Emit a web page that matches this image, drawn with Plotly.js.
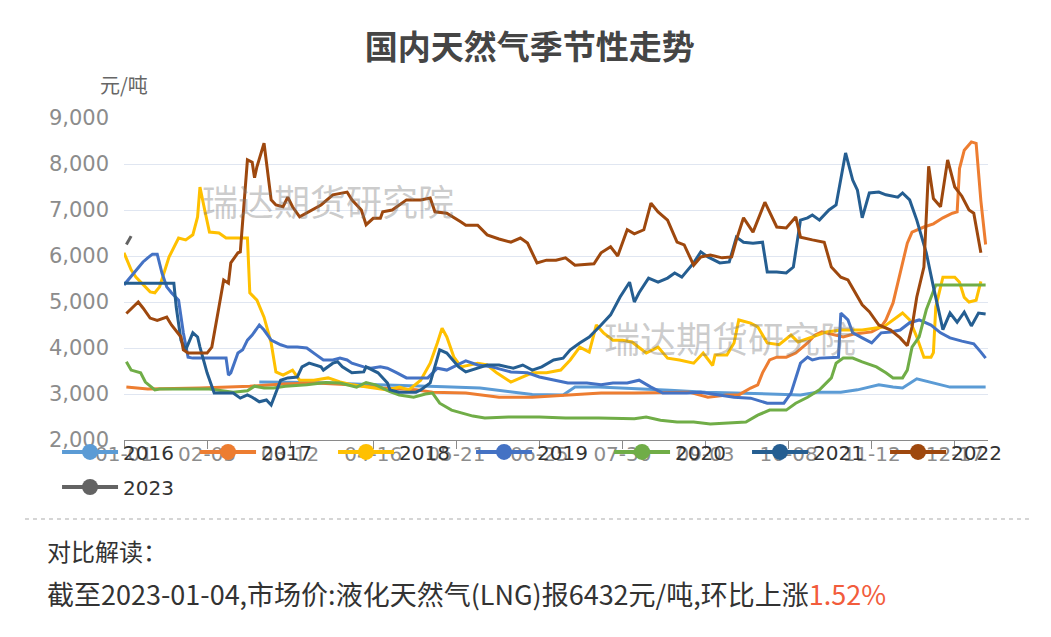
<!DOCTYPE html>
<html><head><meta charset="utf-8">
<script src="https://cdn.plot.ly/plotly-3.0.1.min.js"></script>
<style>html,body{margin:0;padding:0;background:#fff}#chart{width:1051px;height:637px}</style>
</head><body><div id="chart"></div>
<script>
// category axis: every day of the (non-leap) year, "MM-DD"
const monthLengths = [31,28,31,30,31,30,31,31,30,31,30,31];
const days = [];
monthLengths.forEach((n, m) => { for (let d = 1; d <= n; d++) days.push(String(m + 1).padStart(2, '0') + '-' + String(d).padStart(2, '0')); });
const tickLabels = ['01-01','02-05','03-12','04-16','05-21','06-25','07-30','09-03','10-08','11-12','12-17'];
const years = ['2016','2017','2018','2019','2020','2021','2022','2023'];

// day-of-year index (0 = 01-01) and price (元/吨)
const day2016 = [57,80,100,120,135,150,163,172,185,190,200,215,230,245,260,275,285,292,302,309,318,324,328,334,341,348,356,363];
const val2016 = [3260,3250,3210,3190,3160,3130,3040,2990,2980,3150,3150,3120,3080,3040,3020,2990,2980,3040,3040,3090,3200,3150,3130,3330,3240,3150,3150,3150];

const day2017 = [1,10,32,53,67,81,95,109,123,130,144,158,172,186,201,215,229,238,246,254,259,264,267,269,272,275,279,283,288,291,294,299,303,307,311,315,319,321,324,327,330,332,337,341,345,349,351,352,354,357,359,361,363];
const val2017 = [3150,3110,3130,3170,3220,3240,3200,3130,3090,3040,3020,2930,2930,2980,3020,3020,3040,3040,2930,2980,2980,3130,3200,3460,3740,3800,3800,3890,4110,4280,4350,4280,4240,4300,4330,4350,4460,4610,4980,5630,6280,6520,6630,6700,6830,6930,6960,7900,8300,8480,8450,7200,6250];

const day2018 = [0,3,5,8,11,13,15,19,23,26,29,31,32,34,36,40,43,52,53,56,59,62,64,67,71,74,80,86,91,96,102,111,116,120,125,129,132,134,136,139,142,145,149,153,157,163,167,172,178,184,188,192,196,199,202,206,210,214,220,225,229,234,240,244,248,249,254,257,259,264,267,271,276,281,284,290,296,302,311,316,320,324,328,331,334,337,340,341,342,345,350,352,354,356,359,361];
const val2018 = [6070,5700,5540,5370,5220,5200,5330,5980,6390,6350,6460,6850,7500,7000,6520,6500,6390,6390,5200,5040,4670,4110,3480,3410,3520,3300,3300,3350,3260,3200,3150,3090,3150,3090,3300,3670,4110,4430,4240,3800,3590,3630,3670,3630,3460,3260,3350,3460,3460,3520,3740,4020,3910,4500,4330,4170,4170,4130,3890,4020,3780,3740,3670,3890,3620,3850,3850,4110,4610,4540,4460,4110,4070,4280,4130,4240,4350,4390,4390,4430,4460,4610,4760,4610,4240,3800,3800,3900,4890,5540,5540,5430,5100,5000,5040,5450];

const day2019 = [0,4,8,10,12,14,16,18,20,23,25,27,29,43,44,45,48,50,52,54,57,59,62,66,69,73,77,81,84,88,91,94,96,101,104,108,111,115,119,123,128,132,136,142,144,149,155,163,170,175,181,187,195,201,206,212,217,222,227,237,243,250,257,264,271,278,281,285,288,290,293,301,302,305,307,311,315,319,323,327,331,335,340,344,348,353,358,361,363];
const val2019 = [5370,5630,5870,5960,6040,6040,5630,5330,5200,5040,4330,3800,3780,3780,3410,3460,3890,3960,4170,4280,4500,4390,4170,4070,4020,4020,4000,3850,3740,3740,3780,3740,3670,3590,3560,3590,3560,3460,3350,3350,3350,3560,3520,3670,3720,3630,3590,3480,3460,3370,3300,3240,3240,3200,3240,3240,3300,3150,3020,3020,3040,2980,2930,2910,2800,2800,3020,3670,3800,3740,3780,3800,4760,4610,4330,4220,4110,4330,4350,4390,4550,4610,4500,4330,4220,4150,4090,3910,3780];

const day2020 = [1,3,7,9,13,15,36,46,52,55,59,63,68,77,85,91,94,98,102,106,112,116,122,127,130,133,138,142,147,152,162,175,186,200,215,220,226,233,240,247,255,262,267,272,279,283,288,293,298,300,303,307,311,317,321,324,328,330,332,335,338,341,342,363];
const val2020 = [3700,3520,3460,3260,3090,3110,3110,3040,3070,3170,3130,3130,3170,3200,3250,3240,3200,3150,3250,3200,3050,2980,2930,3000,3020,2800,2650,2590,2520,2480,2500,2500,2480,2480,2460,2500,2430,2390,2390,2350,2370,2390,2540,2650,2650,2800,2930,3090,3350,3670,3780,3780,3700,3590,3460,3350,3350,3520,4020,4240,4830,5260,5370,5370];

const day2021 = [0,21,22,24,26,29,31,32,35,38,46,49,52,54,57,60,62,64,66,69,73,75,78,83,84,88,90,92,94,96,101,102,107,111,112,116,123,125,129,133,136,141,144,149,153,158,164,168,172,176,181,185,188,192,196,201,205,209,213,215,217,221,225,229,232,235,240,243,246,251,255,258,261,265,269,271,275,279,282,285,288,290,293,297,300,304,307,309,311,314,318,321,326,328,331,334,338,341,345,348,351,354,357,360,363];
const val2021 = [5410,5410,4890,4170,3960,4330,4240,4020,3460,3020,3020,2910,2980,2930,2830,2870,2760,3040,3300,3350,3370,3590,3670,3590,3520,3670,3700,3590,3520,3460,3480,3590,3460,3240,3090,3040,3040,3090,3240,3960,3890,3590,3480,3560,3630,3630,3560,3630,3520,3590,3740,3780,3960,4110,4240,4500,4720,5110,5430,5000,5200,5520,5430,5520,5630,5540,5850,6090,5980,5850,5870,6410,6300,6280,6300,5650,5650,5630,5760,6780,6830,6890,6780,7000,7110,8240,7650,7430,6830,7370,7390,7330,7280,7370,7220,6780,6070,5330,4400,4760,4560,4780,4480,4760,4740];

const day2022 = [1,6,8,11,14,18,20,24,25,27,35,37,40,42,44,45,48,49,52,54,55,56,59,62,64,67,69,71,74,78,83,88,94,96,100,102,105,108,109,113,119,125,129,131,136,142,144,149,153,158,163,167,170,174,178,182,186,190,198,201,205,208,212,215,219,222,225,229,233,236,240,243,247,252,256,258,261,265,270,275,279,283,285,290,295,298,302,305,308,311,314,318,323,327,330,332,334,337,339,341,344,347,350,353,356,358,361];
const val2022 = [4750,5000,4870,4650,4600,4670,4500,4240,3960,3890,3890,4020,4890,5480,5410,5850,6070,6090,8090,8040,7700,7940,8450,7220,7110,7070,7280,7070,6850,6960,7110,7330,7390,7220,7000,6680,6820,6820,6960,7000,7220,7220,7260,6960,6930,6740,6670,6670,6460,6370,6300,6390,6280,5850,5910,5910,5960,5800,5830,6070,6200,6000,6570,6480,6570,7150,6960,6780,6300,6240,5800,5980,6020,5960,5980,6350,6830,6520,7170,6630,6610,6850,6410,6350,6300,5760,5540,5480,5200,4940,4790,4500,4390,4220,4050,4460,5110,5760,7950,7250,7070,8090,7500,7300,7000,6930,6070];

const day2023 = [1,2,3];
const val2023 = [6250,6336,6432];

const seriesDays = [day2016, day2017, day2018, day2019, day2020, day2021, day2022, day2023];
const seriesVals = [val2016, val2017, val2018, val2019, val2020, val2021, val2022, val2023];
const colors = ['#5B9BD5','#ED7D31','#FFC000','#4472C4','#70AD47','#255E91','#9E480E','#636363'];

const traces = [];
years.forEach((yr, i) => {
  traces.push({
    type: 'scatter', mode: 'lines', name: yr, legendgroup: yr, showlegend: false,
    x: seriesDays[i].map(k => days[k]), y: seriesVals[i],
    line: {color: colors[i], width: 3}, hoverinfo: 'x+y+name'
  });
});
// legend entries (line + circle symbol)
years.forEach((yr, i) => {
  traces.push({
    type: 'scatter', mode: 'lines+markers', name: yr, legendgroup: yr,
    legend: i === 7 ? 'legend2' : 'legend',
    x: [days[0]], y: [null],
    line: {color: colors[i], width: 4}, marker: {color: colors[i], size: 16}
  });
});

const latin = 'DejaVu Sans, Noto Sans CJK SC, sans-serif';
const cjk = 'Noto Sans CJK SC, sans-serif';
const legendCommon = {
  orientation: 'h', xanchor: 'left', yanchor: 'middle', x: -0.0775,
  bgcolor: 'rgba(0,0,0,0)', itemwidth: 56, entrywidth: 67, entrywidthmode: 'pixels',
  font: {family: latin, size: 20, color: '#333'}, itemclick: false, itemdoubleclick: false
};

const layout = {
  width: 1051, height: 637,
  margin: {l: 124, r: 63, t: 118, b: 197, autoexpand: false},
  paper_bgcolor: '#fff', plot_bgcolor: '#fff',
  title: {text: '国内天然气季节性走势', x: 0.504, xanchor: 'center', y: 0.925, yanchor: 'middle',
          xref: 'container', yref: 'container',
          font: {family: cjk, size: 33, color: '#454545', weight: 'bold'}},
  xaxis: {
    type: 'category', categoryorder: 'array', categoryarray: days,
    range: [0, days.length - 1], tickmode: 'array', tickvals: tickLabels, ticktext: tickLabels,
    showgrid: false, showline: true, linecolor: '#8a8a8a', linewidth: 1,
    ticks: 'outside', ticklen: 8, tickcolor: '#8a8a8a', ticklabelstandoff: -12,
    tickfont: {family: latin, size: 20, color: '#8c8c8c'}, zeroline: false, fixedrange: true
  },
  yaxis: {
    range: [2000, 9000], dtick: 1000, tick0: 2000, tickformat: ',d',
    showgrid: true, gridcolor: '#e0e6f1', gridwidth: 1, zeroline: false, showline: false,
    ticks: '', ticklabelstandoff: 14,
    tickfont: {family: latin, size: 21, color: '#8c8c8c'}, fixedrange: true
  },
  legend: Object.assign({}, legendCommon, {y: -0.037}),
  legend2: Object.assign({}, legendCommon, {y: -0.146}),
  shapes: [{type: 'line', xref: 'paper', yref: 'paper', x0: -0.1146, x1: 1.0486, y0: -0.2453, y1: -0.2453,
            line: {color: '#c8c8c8', width: 1.5, dash: '4px,4px'}}],
  annotations: [
    {text: '元/吨', xref: 'paper', yref: 'paper', x: 0, y: 1.1025, xanchor: 'center', yanchor: 'middle',
     showarrow: false, font: {family: cjk, size: 20, color: '#666'}},
    {text: '瑞达期货研究院', xref: 'paper', yref: 'paper', x: 0.236, y: 0.745, xanchor: 'center', yanchor: 'middle',
     showarrow: false, font: {family: cjk, size: 36, color: 'rgba(120,120,120,0.38)'}},
    {text: '瑞达期货研究院', xref: 'paper', yref: 'paper', x: 0.701, y: 0.32, xanchor: 'center', yanchor: 'middle',
     showarrow: false, font: {family: cjk, size: 36, color: 'rgba(120,120,120,0.38)'}},
    {text: '对比解读：', xref: 'paper', yref: 'paper', x: -0.0914, y: -0.3447, xanchor: 'left', yanchor: 'middle',
     showarrow: false, font: {family: cjk, size: 24, color: '#333'}},
    {text: '截至2023-01-04,市场价:液化天然气(LNG)报6432元/吨,环比上涨<span style="color:#f25c3c">1.52%</span>',
     xref: 'paper', yref: 'paper', x: -0.0914, y: -0.4752, xanchor: 'left', yanchor: 'middle',
     showarrow: false, font: {family: cjk, size: 27, color: '#333'}}
  ],
  showlegend: true, hovermode: 'closest'
};

Plotly.newPlot('chart', traces, layout, {displayModeBar: false, responsive: false});
</script>
</body></html>
